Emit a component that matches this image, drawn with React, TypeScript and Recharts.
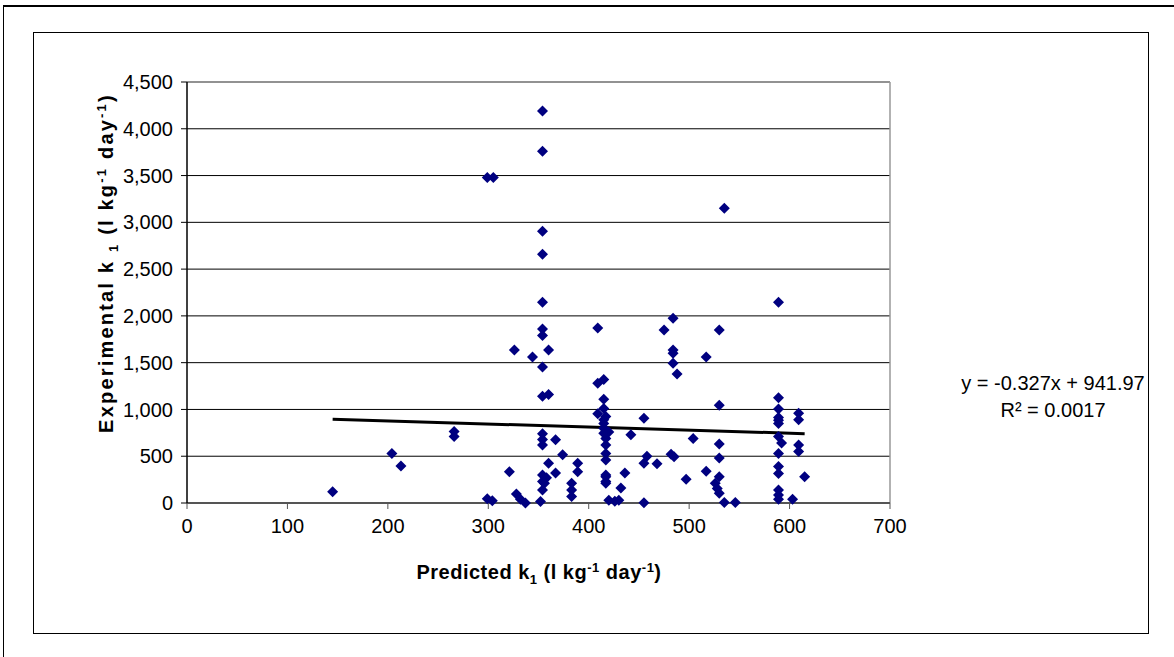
import { ScatterChart, Scatter, XAxis, YAxis, CartesianGrid, ReferenceLine } from 'recharts';

const predicted = [
  145, 204, 213, 266, 266, 299, 305, 299, 304, 321, 326, 328, 332, 337, 344,
  354, 354, 354, 354, 354, 354, 354, 354, 354, 354, 354, 354, 354, 354, 354, 352,
  360, 360, 360, 358, 356, 367, 367, 374, 383, 383, 383, 389, 389,
  409, 409, 415, 415, 415, 409, 417, 415, 415, 415, 420, 415, 417, 417, 417, 417, 417, 417, 417, 417, 420, 426, 430, 432,
  436, 442, 455, 455, 458, 455, 468, 475, 484, 484, 484, 484, 488, 482, 485, 497, 504, 517, 517,
  530, 530, 530, 530, 530, 526, 528, 530, 535, 535, 546,
  589, 589, 589, 589, 589, 589, 589, 589, 589, 589, 589, 589, 589, 592,
  609, 609, 609, 609, 603, 615,
];
const experimental = [
  120, 530, 395, 765, 710, 3480, 3480, 45, 25, 335, 1635, 95, 40, 0, 1560,
  4190, 3760, 2905, 2660, 2145, 1860, 1790, 1455, 1140, 740, 680, 620, 300, 230, 140, 15,
  1635, 1160, 425, 270, 210, 675, 320, 515, 210, 140, 70, 425, 335,
  1870, 1280, 1320, 1110, 1010, 955, 925, 890, 850, 800, 760, 745, 690, 620, 530, 460, 300, 280, 230, 210, 30, 20, 30, 160,
  320, 730, 905, 425, 500, 3, 420, 1850, 1975, 1635, 1600, 1495, 1380, 520, 495, 255, 690, 1560, 340,
  1850, 1045, 630, 480, 280, 210, 155, 105, 3150, 5, 5,
  2145, 1125, 1005, 915, 885, 850, 710, 530, 390, 315, 140, 85, 40, 640,
  960, 890, 620, 550, 40, 280,
];
const points = predicted.map((x, i) => ({ x, y: experimental[i] }));

// trend line end points (y = -0.327x + 941.97)
const trendStart = { x: 145, y: 895 };
const trendEnd = { x: 615, y: 741 };

const xTicks = [0, 100, 200, 300, 400, 500, 600, 700];
const yTicks = [0, 500, 1000, 1500, 2000, 2500, 3000, 3500, 4000, 4500];

const FONT = '"Liberation Sans", Arial, sans-serif';

const Diamond = (props: any) => {
  const { cx, cy } = props;
  const r = 5.5;
  return <path d={`M${cx},${cy - r}L${cx + r},${cy}L${cx},${cy + r}L${cx - r},${cy}Z`} fill="#000080" />;
};

const App = () => {
  return (
    <div style={{ position: 'absolute', left: 0, top: 0, width: 1174, height: 657, background: '#fff', fontFamily: FONT }}>
      {/* outer frame edges */}
      <div style={{ position: 'absolute', left: 3, top: 5, width: 1171, height: 652, borderTop: '2px solid #000', borderLeft: '1px solid #000' }} />
      {/* chart box */}
      <div style={{ position: 'absolute', left: 33, top: 32, width: 1114, height: 600, border: '1px solid #000' }} />
      <div style={{ position: 'absolute', left: 0, top: 0 }}>
        <ScatterChart width={1174} height={657} margin={{ top: 82, right: 284, bottom: 114, left: 127 }}>
          <CartesianGrid horizontal vertical={false} stroke="#000" strokeDasharray="" />
          <XAxis
            type="number"
            dataKey="x"
            domain={[0, 700]}
            ticks={xTicks}
            height={40}
            axisLine={{ stroke: '#555', strokeWidth: 2 }}
            tickLine={{ stroke: '#555' }}
            tickSize={6}
            tickMargin={10}
            tick={{ fill: '#000', fontSize: 20, fontFamily: FONT }}
          />
          <YAxis
            type="number"
            dataKey="y"
            domain={[0, 4500]}
            ticks={yTicks}
            width={60}
            axisLine={{ stroke: '#000', strokeWidth: 1.5 }}
            tickLine={{ stroke: '#000' }}
            tickSize={6}
            tickMargin={8}
            tickFormatter={(v: number) => v.toLocaleString('en-US')}
            tick={{ fill: '#000', fontSize: 20, fontFamily: FONT }}
          />
          <ReferenceLine y={4500} stroke="#999" strokeWidth={1.5} />
          <ReferenceLine x={700} stroke="#999" strokeWidth={1.5} />
          <Scatter data={points} fill="#000080" shape={Diamond} isAnimationActive={false} />
          <ReferenceLine segment={[trendStart, trendEnd]} stroke="#000" strokeWidth={3} />
        </ScatterChart>
      </div>
      <svg width={1174} height={657} style={{ position: 'absolute', left: 0, top: 0, pointerEvents: 'none' }}>
        <text x={539} y={579} textAnchor="middle" fontSize={20} letterSpacing={0.5} fontWeight="bold" fontFamily={FONT} fill="#000">
          Predicted k<tspan fontSize={13} dy={5}>1</tspan>
          <tspan dy={-5}> (l kg</tspan>
          <tspan fontSize={13} dy={-7}>-1</tspan>
          <tspan dy={7}> day</tspan>
          <tspan fontSize={13} dy={-7}>-1</tspan>
          <tspan dy={7}>)</tspan>
        </text>
        <text x={113} y={263} transform="rotate(-90 113 263)" textAnchor="middle" fontSize={20} letterSpacing={2.2} fontWeight="bold" fontFamily={FONT} fill="#000">
          Experimental k <tspan fontSize={13} dy={5}>1</tspan>
          <tspan dy={-5}> (l kg</tspan>
          <tspan fontSize={13} dy={-7}>-1</tspan>
          <tspan dy={7}> day</tspan>
          <tspan fontSize={13} dy={-7}>-1</tspan>
          <tspan dy={7}>)</tspan>
        </text>
        <text x={1053} y={390} textAnchor="middle" fontSize={20} fontFamily={FONT} fill="#000">y = -0.327x + 941.97</text>
        <text x={1053} y={417} textAnchor="middle" fontSize={20} fontFamily={FONT} fill="#000">R² = 0.0017</text>
      </svg>
    </div>
  );
};

export default App;
